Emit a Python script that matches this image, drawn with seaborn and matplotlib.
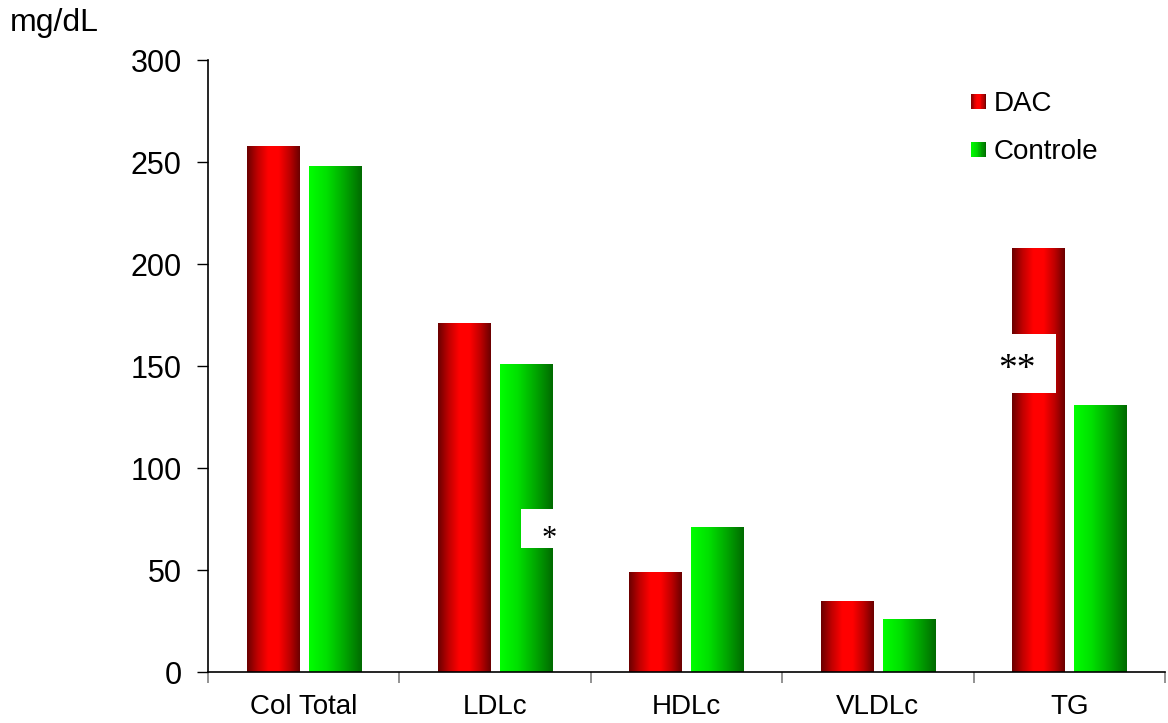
import numpy as np
import pandas as pd
import matplotlib
matplotlib.use("Agg")
import matplotlib.pyplot as plt
from matplotlib.patches import Rectangle
from matplotlib.legend_handler import HandlerBase
from matplotlib.colors import LinearSegmentedColormap
import seaborn as sns

# Lipid profile values (mg/dL)
categories = ["Col Total", "LDLc", "HDLc", "VLDLc", "TG"]
dac = [258, 171, 49, 35, 208]
controle = [248, 151, 71, 26, 131]
groups = ["DAC", "Controle"]
y_ticks = [0, 50, 100, 150, 200, 250, 300]

df = pd.DataFrame({
    "categoria": categories * 2,
    "valor": dac + controle,
    "grupo": [groups[0]] * len(categories) + [groups[1]] * len(categories),
})

sns.set_theme(style="white")
plt.rcParams["font.family"] = ["Liberation Sans", "DejaVu Sans"]
for key in ["text.color", "axes.labelcolor", "xtick.color", "ytick.color",
            "xtick.labelcolor", "ytick.labelcolor"]:
    plt.rcParams[key] = "black"

fig = plt.figure(figsize=(11.68, 7.23), dpi=100)
ax = fig.add_axes([0.1781, 0.0705, 0.8193, 0.8465])

sns.barplot(data=df, x="categoria", y="valor", hue="grupo",
            hue_order=groups, order=categories, width=0.648, gap=0.16,
            palette=["#ff0000", "#00ff00"], legend=False, ax=ax,
            linewidth=0, edgecolor="none", saturation=1)

# colour maps: red bars shaded like a cylinder, green bars shaded left->right
red_cmap = LinearSegmentedColormap.from_list(
    "red_cyl", ["#6a0000", "#c00000", "#ff0000", "#ff0000", "#c00000", "#6a0000"])
green_cmap = LinearSegmentedColormap.from_list(
    "green_lin", ["#00ff00", "#00e000", "#00a800", "#006a00"])
cmaps = [red_cmap, green_cmap]

grad = np.linspace(0, 1, 256).reshape(1, -1)
for cont, cmap in zip(ax.containers, cmaps):
    for bar in cont:
        x0, y0 = bar.get_x(), bar.get_y()
        w, h = bar.get_width(), bar.get_height()
        img = ax.imshow(grad, cmap=cmap, aspect="auto",
                        extent=[x0, x0 + w, y0, y0 + h], zorder=2)
        img.set_clip_path(bar)
        bar.set_facecolor("none")

ax.set_xlim(-0.5, len(categories) - 0.5)
ax.set_ylim(0, 300)
ax.set_yticks(y_ticks)
ax.set_yticklabels([str(t) for t in y_ticks], fontsize=22)

# category ticks sit at the boundaries between groups
ax.set_xticks(np.arange(len(categories)))
ax.set_xticklabels(categories, fontsize=20)
ax.tick_params(axis="x", which="major", length=0, pad=16)
ax.set_xticks(np.arange(-0.5, len(categories)), minor=True)
ax.tick_params(axis="x", which="minor", length=8, width=1.2, color="#808080",
               direction="out", bottom=True)
ax.tick_params(axis="y", length=8, width=1, color="black", direction="out",
               left=True, pad=11)

for side in ["top", "right"]:
    ax.spines[side].set_visible(False)
for side in ["left", "bottom"]:
    ax.spines[side].set_color("black")
    ax.spines[side].set_linewidth(1.2)
ax.set_xlabel("")
ax.set_ylabel("")

fig.text(0.008, 0.968, "mg/dL", fontsize=23, ha="left", va="center")

# significance markers
ax.add_patch(Rectangle((1.135, 61), 0.209, 19, facecolor="white",
                       edgecolor="none", zorder=4))
ax.text(1.28, 65, "*", fontsize=22, family="Liberation Serif",
        ha="center", va="center", zorder=5)
ax.add_patch(Rectangle((3.565, 137), 0.365, 28.5, facecolor="white",
                       edgecolor="none", zorder=4))
ax.text(3.727, 148, "**", fontsize=27, family="Liberation Serif",
        ha="center", va="center", zorder=5)


class GradientHandler(HandlerBase):
    def __init__(self, cmap, n=20):
        super().__init__()
        self.cmap = cmap
        self.n = n

    def create_artists(self, legend, orig_handle, xdescent, ydescent,
                       width, height, fontsize, trans):
        side = min(width, height)
        x0 = -xdescent + (width - side)
        y0 = -ydescent + (height - side) / 2
        arts = []
        step = side / self.n
        for i in range(self.n):
            r = Rectangle((x0 + i * step, y0), step * 1.05, side,
                          facecolor=self.cmap((i + 0.5) / self.n),
                          edgecolor="none", transform=trans)
            arts.append(r)
        return arts


h_dac = Rectangle((0, 0), 1, 1)
h_ctl = Rectangle((0, 0), 1, 1)
leg = fig.legend([h_dac, h_ctl], groups,
                 handler_map={h_dac: GradientHandler(red_cmap),
                              h_ctl: GradientHandler(green_cmap)},
                 loc="upper left", bbox_to_anchor=(0.831, 0.874),
                 frameon=False, fontsize=20, labelspacing=0.8,
                 handlelength=0.56, handleheight=0.56, handletextpad=0.27,
                 borderaxespad=0, borderpad=0)

fig.savefig("out.png", dpi=100)
